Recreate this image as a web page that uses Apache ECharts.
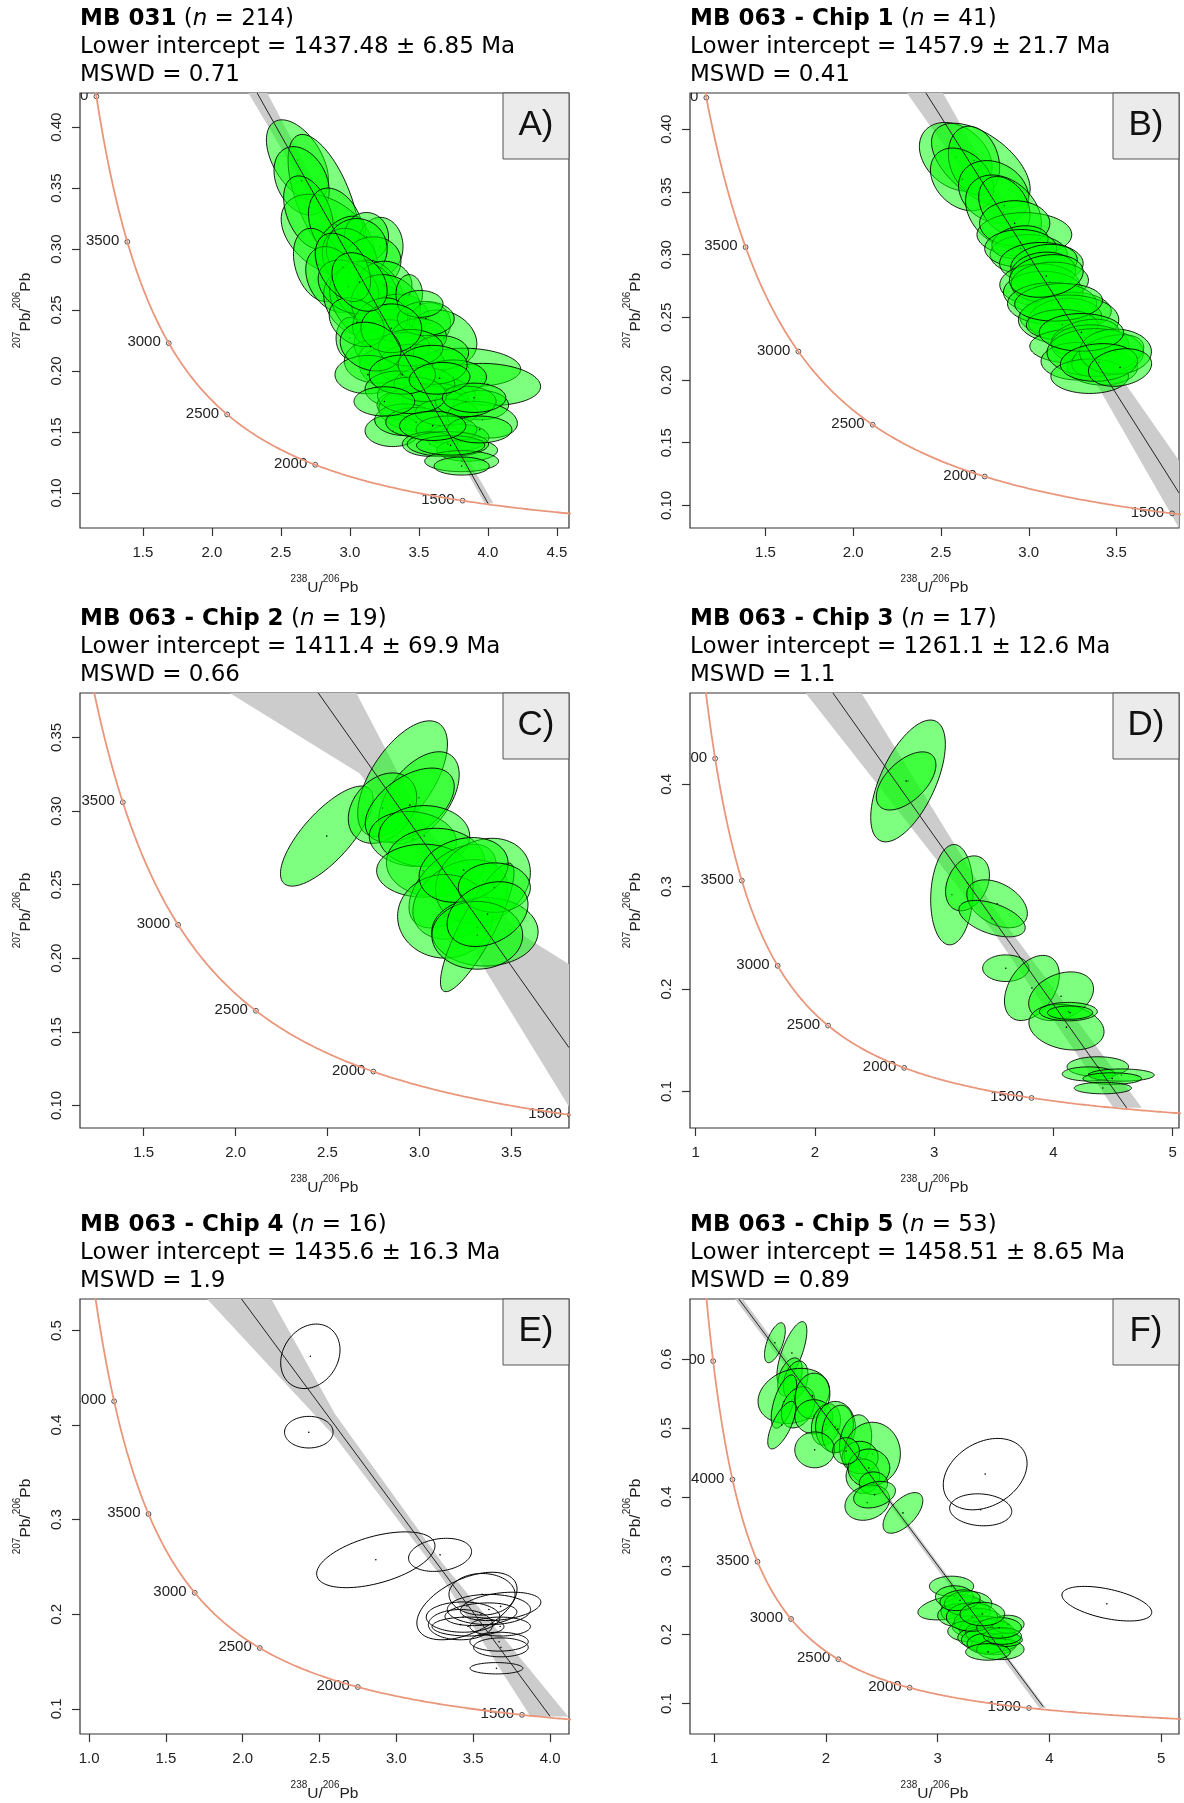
<!DOCTYPE html>
<html>
<head>
<meta charset="utf-8">
<script src="https://cdn.jsdelivr.net/npm/echarts@6/dist/echarts.min.js"></script>
<style>
  html, body { margin: 0; padding: 0; background: #fff; }
  #chart { width: 1184px; height: 1803px; }
</style>
</head>
<body>
<div id="chart"></div>
<script>
// decay constants (1/Ma) used for the Tera-Wasserburg concordia
const LAMBDA_238 = 1.55125e-4
const LAMBDA_235 = 9.8485e-4
const U238_U235 = 137.818

// panel headers
const sampleNames = ['MB 031', 'MB 063 - Chip 1', 'MB 063 - Chip 2', 'MB 063 - Chip 3', 'MB 063 - Chip 4', 'MB 063 - Chip 5']
const sampleN = [214, 41, 19, 17, 16, 53]
const lowerIntercepts = ['1437.48 ± 6.85', '1457.9 ± 21.7', '1411.4 ± 69.9', '1261.1 ± 12.6', '1435.6 ± 16.3', '1458.51 ± 8.65']
const mswdValues = ['0.71', '0.41', '0.66', '1.1', '1.9', '0.89']
const panelLabels = ['A)', 'B)', 'C)', 'D)', 'E)', 'F)']

// axis ranges and tick labels
const xRanges = [[1.044, 4.588], [1.07, 3.856], [1.154, 3.813], [0.952, 5.054], [0.941, 4.123], [0.783, 5.16]]
const yRanges = [[0.0712, 0.428], [0.082, 0.4289], [0.0847, 0.3802], [0.0643, 0.4892], [0.0734, 0.5333], [0.0559, 0.6871]]
const xTicks = [
  [1.5, 2, 2.5, 3, 3.5, 4, 4.5],
  [1.5, 2, 2.5, 3, 3.5],
  [1.5, 2, 2.5, 3, 3.5],
  [1, 2, 3, 4, 5],
  [1, 1.5, 2, 2.5, 3, 3.5, 4],
  [1, 2, 3, 4, 5]
]
const yTicks = [
  [0.1, 0.15, 0.2, 0.25, 0.3, 0.35, 0.4],
  [0.1, 0.15, 0.2, 0.25, 0.3, 0.35, 0.4],
  [0.1, 0.15, 0.2, 0.25, 0.3, 0.35],
  [0.1, 0.2, 0.3, 0.4],
  [0.1, 0.2, 0.3, 0.4, 0.5],
  [0.1, 0.2, 0.3, 0.4, 0.5, 0.6]
]
const xDecimals = [1, 1, 1, 0, 1, 0]
const yDecimals = [2, 2, 2, 1, 1, 1]

// concordia age marks (Ma)
const concordiaTickAges = [1500, 2000, 2500, 3000, 3500, 4000, 4500]

// discordia lines [[x, y], [x, y]] and their error envelopes
const lineA = [[2.328, 0.428], [4.005, 0.0906]]
const lineB = [[2.414, 0.4289], [3.856, 0.110]]
const lineC = [[2.448, 0.3805], [3.813, 0.1393]]
const lineD = [[2.151, 0.4892], [4.615, 0.084]]
const lineE = [[1.992, 0.5333], [4.0, 0.092]]
const lineF = [[1.22, 0.6871], [3.944, 0.0956]]

const bandA = [[2.401, 0.428], [3.2, 0.2568], [4.04, 0.0915], [3.975, 0.0915], [3.2, 0.2488], [2.265, 0.428]]
const bandB = [[2.511, 0.4289], [3.0, 0.3073], [3.856, 0.1358], [3.856, 0.082], [3.0, 0.2913], [2.306, 0.4289]]
const bandC = [[2.655, 0.3805], [3.05, 0.2861], [3.562, 0.2156], [3.813, 0.196], [3.813, 0.0992], [3.356, 0.1923], [3.05, 0.2621], [2.675, 0.3255], [1.964, 0.3805]]
const bandD = [[2.39, 0.4892], [3.5, 0.2793], [4.742, 0.084], [4.504, 0.084], [3.5, 0.2553], [1.922, 0.4892]]
const bandE = [[2.186, 0.5333], [2.6, 0.4117], [3.3, 0.2538], [4.118, 0.092], [3.872, 0.092], [3.3, 0.2378], [2.6, 0.3877], [1.768, 0.5333]]
const bandF = [[1.255, 0.6871], [2.5, 0.414], [3.97, 0.0935], [3.91, 0.0935], [2.5, 0.404], [1.185, 0.6871]]

// error ellipses: [x, y, half-width x, half-height y, correlation]
const ellipsesA = [
  [2.62, 0.373, 0.225, 0.033, -0.5], [2.81, 0.341, 0.258, 0.053, -0.6], [2.65, 0.356, 0.2, 0.028, -0.3],
  [2.84, 0.311, 0.338, 0.034, -0.4], [2.70, 0.33, 0.18, 0.03, -0.4], [2.90, 0.32, 0.2, 0.03, -0.3],
  [2.93, 0.306, 0.184, 0.021, 0.5], [3.22, 0.302, 0.165, 0.024, 0], [3.12, 0.31, 0.16, 0.02, 0],
  [2.77, 0.287, 0.179, 0.030, -0.3], [3.00, 0.292, 0.2, 0.025, -0.2], [3.15, 0.288, 0.22, 0.022, 0.1],
  [3.05, 0.30, 0.22, 0.025, 0], [2.88, 0.275, 0.2, 0.027, -0.3], [3.02, 0.255, 0.21, 0.026, -0.3],
  [3.19, 0.262, 0.21, 0.029, -0.3], [3.20, 0.254, 0.22, 0.019, -0.2], [3.10, 0.254, 0.247, 0.031, -0.4],
  [3.12, 0.265, 0.23, 0.025, -0.2], [3.25, 0.27, 0.2, 0.02, 0], [3.35, 0.245, 0.22, 0.018, 0],
  [2.99, 0.269, 0.22, 0.022, -0.3], [3.26, 0.254, 0.25, 0.025, -0.1], [3.00, 0.227, 0.10, 0.017, 0],
  [3.43, 0.263, 0.096, 0.016, 0], [3.58, 0.239, 0.15, 0.017, 0], [3.68, 0.227, 0.24, 0.023, -0.2],
  [3.28, 0.222, 0.25, 0.02, 0], [3.22, 0.24, 0.2, 0.02, 0.2], [3.50, 0.228, 0.2, 0.015, 0],
  [3.32, 0.215, 0.257, 0.0165, 0.3], [3.32, 0.201, 0.25, 0.018, -0.2], [3.86, 0.203, 0.378, 0.0157, -0.1],
  [3.20, 0.208, 0.24, 0.018, 0], [3.45, 0.205, 0.24, 0.017, 0], [3.66, 0.215, 0.2, 0.014, 0],
  [4.00, 0.189, 0.382, 0.0172, -0.1], [3.13, 0.197, 0.238, 0.0157, 0], [3.69, 0.181, 0.22, 0.0133, -0.1],
  [3.35, 0.185, 0.24, 0.015, 0], [3.75, 0.195, 0.24, 0.014, 0], [3.62, 0.176, 0.24, 0.014, 0],
  [3.41, 0.172, 0.213, 0.0125, 0], [3.54, 0.169, 0.33, 0.019, 0], [3.31, 0.151, 0.20, 0.013, 0],
  [3.40, 0.160, 0.22, 0.013, 0], [3.48, 0.158, 0.22, 0.012, 0], [3.95, 0.172, 0.2, 0.012, 0],
  [3.70, 0.166, 0.227, 0.011, 0], [3.96, 0.160, 0.254, 0.015, -0.2], [3.78, 0.1455, 0.227, 0.011, 0],
  [3.70, 0.152, 0.22, 0.011, 0], [3.58, 0.140, 0.2, 0.01, 0], [3.85, 0.135, 0.22, 0.009, 0],
  [3.71, 0.140, 0.295, 0.0102, 0], [3.81, 0.126, 0.268, 0.0086, 0], [3.81, 0.122, 0.20, 0.0074, 0],
  [3.73, 0.139, 0.247, 0.008, 0], [3.55, 0.243, 0.206, 0.014, 0], [3.51, 0.255, 0.165, 0.011, 0],
  [3.84, 0.175, 0.22, 0.0125, 0], [3.94, 0.152, 0.234, 0.011, 0], [3.44, 0.219, 0.234, 0.015, 0],
  [3.54, 0.189, 0.22, 0.014, 0], [3.05, 0.240, 0.2, 0.02, -0.3], [3.30, 0.235, 0.22, 0.02, 0],
  [3.60, 0.205, 0.25, 0.016, 0], [3.45, 0.180, 0.25, 0.015, 0], [3.60, 0.155, 0.24, 0.012, 0],
  [3.15, 0.220, 0.22, 0.02, -0.2], [2.95, 0.285, 0.2, 0.028, -0.4], [3.07, 0.273, 0.2, 0.024, -0.3],
  [3.38, 0.197, 0.24, 0.016, 0], [3.90, 0.178, 0.23, 0.012, 0], [3.65, 0.194, 0.22, 0.013, 0.1],
  [3.25, 0.175, 0.22, 0.012, 0]
]
const ellipsesB = [
  [2.584, 0.378, 0.207, 0.0274, -0.3], [2.727, 0.371, 0.281, 0.0338, -0.55], [2.688, 0.375, 0.146, 0.0274, -0.2],
  [2.62, 0.36, 0.18, 0.025, -0.3], [2.80, 0.35, 0.2, 0.025, -0.2],
  [2.856, 0.334, 0.216, 0.0295, -0.3], [2.861, 0.339, 0.146, 0.0233, -0.3], [2.975, 0.316, 0.27, 0.0175, 0],
  [2.92, 0.325, 0.2, 0.018, 0], [3.0, 0.30, 0.22, 0.016, 0], [2.95, 0.31, 0.16, 0.013, 0.2],
  [2.954, 0.305, 0.205, 0.015, 0], [3.072, 0.293, 0.238, 0.0167, 0], [3.087, 0.293, 0.189, 0.0152, 0.2],
  [3.083, 0.286, 0.184, 0.016, 0.1], [3.062, 0.276, 0.227, 0.0167, 0], [3.083, 0.270, 0.227, 0.0167, 0],
  [3.12, 0.278, 0.22, 0.016, 0.1], [3.15, 0.25, 0.2, 0.014, 0], [3.25, 0.255, 0.22, 0.015, 0],
  [3.133, 0.261, 0.254, 0.0167, 0], [3.206, 0.2485, 0.21, 0.0167, 0.1], [3.227, 0.248, 0.286, 0.0198, 0],
  [3.191, 0.244, 0.205, 0.0122, 0], [3.26, 0.227, 0.254, 0.0137, 0], [3.321, 0.234, 0.194, 0.0145, 0.3],
  [3.35, 0.228, 0.22, 0.016, 0], [3.28, 0.215, 0.21, 0.015, 0], [3.42, 0.21, 0.2, 0.014, 0],
  [3.379, 0.222, 0.275, 0.019, 0], [3.45, 0.2195, 0.205, 0.0167, 0.4], [3.347, 0.203, 0.221, 0.0137, 0],
  [3.494, 0.2226, 0.205, 0.018, 0], [3.17, 0.262, 0.25, 0.015, 0.1], [3.10, 0.283, 0.21, 0.017, 0.2],
  [3.30, 0.238, 0.24, 0.015, 0], [3.40, 0.214, 0.22, 0.015, 0.1], [3.52, 0.21, 0.18, 0.015, 0.2]
]
const ellipsesC = [
  [2.496, 0.283, 0.252, 0.034, 0.75], [2.908, 0.322, 0.244, 0.0393, 0.6], [2.997, 0.309, 0.219, 0.0313, 0.5],
  [2.799, 0.302, 0.186, 0.0239, 0.3], [2.947, 0.304, 0.242, 0.0252, 0.5], [2.964, 0.281, 0.237, 0.0187, -0.1],
  [3.026, 0.283, 0.247, 0.0207, 0], [3.088, 0.265, 0.268, 0.0233, 0], [3.02, 0.2595, 0.253, 0.018, 0],
  [3.18, 0.249, 0.237, 0.0284, 0.5], [3.222, 0.240, 0.258, 0.027, 0.3], [3.345, 0.2525, 0.258, 0.029, 0.2],
  [3.139, 0.2285, 0.258, 0.0284, 0], [3.356, 0.218, 0.289, 0.0233, 0], [3.314, 0.221, 0.2, 0.0437, 0.85],
  [3.24, 0.260, 0.242, 0.022, 0.2], [3.407, 0.248, 0.196, 0.0168, 0], [3.314, 0.2156, 0.247, 0.023, 0],
  [3.37, 0.23, 0.22, 0.022, 0.3]
]
const ellipsesD = [
  [2.781, 0.4033, 0.313, 0.0595, 0.6], [2.765, 0.4033, 0.25, 0.0284, 0.55], [3.149, 0.2922, 0.178, 0.049, 0.1],
  [3.28, 0.3033, 0.184, 0.0268, 0.3], [3.528, 0.2833, 0.254, 0.0234, -0.4], [3.486, 0.2688, 0.278, 0.0178, -0.5],
  [3.601, 0.2204, 0.194, 0.013, 0], [3.82, 0.2011, 0.23, 0.0318, 0.4], [4.065, 0.193, 0.272, 0.0238, 0.3],
  [4.11, 0.1628, 0.315, 0.0223, -0.2], [4.126, 0.178, 0.243, 0.009, 0], [4.14, 0.177, 0.19, 0.0065, 0],
  [4.373, 0.1242, 0.258, 0.0097, 0], [4.297, 0.1171, 0.222, 0.0069, 0], [4.571, 0.116, 0.275, 0.006, 0],
  [4.494, 0.1126, 0.246, 0.0056, 0], [4.415, 0.1033, 0.24, 0.0056, 0]
]
const ellipsesE = [
  [2.44, 0.4727, 0.193, 0.0341, 0.2], [2.43, 0.3925, 0.158, 0.0167, 0], [2.866, 0.2576, 0.385, 0.0295, 0.5],
  [3.284, 0.2628, 0.205, 0.0175, 0.2], [3.459, 0.2087, 0.326, 0.0357, 0.5], [3.557, 0.2211, 0.215, 0.022, 0],
  [3.678, 0.2083, 0.262, 0.015, 0.3], [3.434, 0.197, 0.24, 0.016, 0], [3.417, 0.189, 0.209, 0.016, 0],
  [3.466, 0.187, 0.234, 0.01, 0], [3.602, 0.205, 0.271, 0.016, 0], [3.675, 0.187, 0.197, 0.01, 0],
  [3.668, 0.171, 0.19, 0.01, 0], [3.68, 0.165, 0.178, 0.01, 0], [3.651, 0.1429, 0.172, 0.006, 0],
  [3.55, 0.200, 0.234, 0.012, 0.2]
]
const ellipsesF = [
  [1.543, 0.6237, 0.093, 0.029, 0.6], [1.695, 0.6088, 0.134, 0.0455, 0.7], [1.678, 0.574, 0.11, 0.0276, 0.4],
  [1.729, 0.5691, 0.11, 0.028, 0.3], [1.712, 0.5465, 0.32, 0.04, 0.2], [1.624, 0.5383, 0.114, 0.0386, 0.6],
  [1.75, 0.53, 0.15, 0.03, 0.3], [1.604, 0.5041, 0.125, 0.0345, 0.7], [1.879, 0.5465, 0.156, 0.033, 0.1],
  [1.892, 0.5162, 0.17, 0.0248, 0], [2.0, 0.505, 0.13, 0.03, 0.2],
  [2.085, 0.5013, 0.178, 0.0372, 0], [2.105, 0.4985, 0.14, 0.0345, 0.2], [1.899, 0.4682, 0.178, 0.026, 0],
  [2.265, 0.4804, 0.144, 0.0386, 0.2], [2.415, 0.4627, 0.251, 0.0455, 0], [2.306, 0.4572, 0.161, 0.0234, 0],
  [2.33, 0.43, 0.15, 0.025, 0], [2.384, 0.4418, 0.187, 0.0276, 0], [2.425, 0.4197, 0.127, 0.0165, 0],
  [2.37, 0.3916, 0.2, 0.0256, 0.2], [2.435, 0.4032, 0.187, 0.0193, 0.3], [2.689, 0.3767, 0.178, 0.0295, 0.6],
  [2.18, 0.4666, 0.119, 0.0193, 0],
  [3.124, 0.2703, 0.198, 0.0146, 0], [3.103, 0.2395, 0.28, 0.018, 0.4], [3.249, 0.234, 0.22, 0.0207, 0],
  [3.15, 0.255, 0.17, 0.016, 0], [3.20, 0.228, 0.2, 0.017, 0], [3.33, 0.212, 0.2, 0.016, 0],
  [3.273, 0.245, 0.212, 0.018, 0], [3.368, 0.2185, 0.22, 0.0193, 0], [3.425, 0.2075, 0.229, 0.0193, 0],
  [3.28, 0.205, 0.19, 0.015, 0], [3.38, 0.196, 0.2, 0.015, 0], [3.50, 0.185, 0.2, 0.014, 0],
  [3.469, 0.2036, 0.22, 0.018, 0], [3.476, 0.1926, 0.263, 0.018, 0], [3.442, 0.1871, 0.178, 0.015, 0],
  [3.561, 0.1788, 0.212, 0.015, 0], [3.605, 0.1926, 0.153, 0.0097, 0], [3.629, 0.2152, 0.144, 0.013, 0],
  [3.58, 0.198, 0.17, 0.012, 0], [3.45, 0.175, 0.2, 0.012, 0],
  [3.307, 0.2257, 0.229, 0.0207, 0], [3.20, 0.25, 0.18, 0.015, 0.2], [3.55, 0.21, 0.2, 0.015, 0],
  [3.40, 0.23, 0.2, 0.017, 0]
]
const outliersF = [
  [3.425, 0.433, 0.375, 0.0518, 0.3], [3.385, 0.3812, 0.278, 0.0232, -0.1], [4.514, 0.245, 0.402, 0.0251, -0.5]
]

const panelLines = [lineA, lineB, lineC, lineD, lineE, lineF]
const panelBands = [bandA, bandB, bandC, bandD, bandE, bandF]
const panelEllipses = [ellipsesA, ellipsesB, ellipsesC, ellipsesD, [], ellipsesF]
const panelOpenEllipses = [[], [], [], [], ellipsesE, outliersF]

// layout (pixels)
const gridLefts = [80, 690, 80, 690, 80, 690]
const gridTops = [93, 93, 693, 693, 1299, 1299]
const GRID_W = 489
const GRID_H = 435

const AXIS_FONT = "'Liberation Sans', Arial, Helvetica, sans-serif"
const TITLE_FONT = "'DejaVu Sans', Verdana, sans-serif"

function concordiaPoint(t) {
  const e8 = Math.exp(LAMBDA_238 * t) - 1
  const e5 = Math.exp(LAMBDA_235 * t) - 1
  return [1 / e8, e5 / (e8 * U238_U235)]
}

const concordiaCurve = []
for (let t = 900; t <= 5500; t += 5) concordiaCurve.push(concordiaPoint(t))
const concordiaMarks = concordiaTickAges.map(t => concordiaPoint(t).concat([t]))

function ellipseRenderer(filled) {
  return function (params, api) {
    const cx = api.value(0), cy = api.value(1)
    const sx = api.value(2), sy = api.value(3), rho = api.value(4)
    const k = Math.sqrt(1 - rho * rho)
    const pts = []
    for (let j = 0; j < 90; j++) {
      const a = j / 90 * Math.PI * 2
      pts.push(api.coord([cx + sx * Math.cos(a), cy + sy * (rho * Math.cos(a) + k * Math.sin(a))]))
    }
    const c = api.coord([cx, cy])
    return {
      type: 'group',
      children: [
        { type: 'polygon', shape: { points: pts },
          style: { fill: filled ? 'rgba(0,255,0,0.5)' : 'none', stroke: '#000', lineWidth: filled ? 0.9 : 1 } },
        { type: 'circle', shape: { cx: c[0], cy: c[1], r: 0.8 }, style: { fill: '#000' } }
      ]
    }
  }
}

function bandRenderer(band) {
  return function (params, api) {
    return {
      type: 'polygon',
      shape: { points: band.map(p => api.coord(p)) },
      style: { fill: '#CCCCCC' }
    }
  }
}

function markRenderer(params, api) {
  const c = api.coord([api.value(0), api.value(1)])
  return {
    type: 'group',
    children: [
      { type: 'circle', shape: { cx: c[0], cy: c[1], r: 2.4 }, style: { fill: 'none', stroke: '#222', lineWidth: 0.8 } },
      { type: 'text', x: c[0] - 8, y: c[1] - 1,
        style: { text: String(api.value(2)), fill: '#222', fontSize: 15, fontFamily: AXIS_FONT,
                 align: 'right', verticalAlign: 'middle', textAlign: 'right', textVerticalAlign: 'middle' } }
    ]
  }
}

const axisNameRich = {
  sup: { fontSize: 10, fontFamily: AXIS_FONT, color: '#222', verticalAlign: 'top' },
  main: { fontSize: 15.5, fontFamily: AXIS_FONT, color: '#222', lineHeight: 22, verticalAlign: 'bottom' }
}

const grids = [], xAxes = [], yAxes = [], series = [], titles = [], graphics = []

for (let i = 0; i < 6; i++) {
  const L = gridLefts[i], T = gridTops[i]
  grids.push({ left: L, top: T, width: GRID_W, height: GRID_H, show: true,
               borderColor: '#333', borderWidth: 1.2, backgroundColor: 'transparent' })

  xAxes.push({
    type: 'value', gridIndex: i, min: xRanges[i][0], max: xRanges[i][1],
    name: '{sup|238}{main|U/}{sup|206}{main|Pb}', nameLocation: 'middle', nameGap: 46,
    nameTextStyle: { rich: axisNameRich },
    axisLine: { show: false },
    axisTick: { show: true, length: 8, customValues: xTicks[i], lineStyle: { color: '#333', width: 1.2 } },
    axisLabel: { customValues: xTicks[i], formatter: v => v.toFixed(xDecimals[i]), margin: 17,
                 fontSize: 15, fontFamily: AXIS_FONT, color: '#222' },
    splitLine: { show: false }
  })
  yAxes.push({
    type: 'value', gridIndex: i, min: yRanges[i][0], max: yRanges[i][1],
    name: '{sup|207}{main|Pb/}{sup|206}{main|Pb}', nameLocation: 'middle', nameGap: 46,
    nameTextStyle: { rich: axisNameRich },
    axisLine: { show: false },
    axisTick: { show: true, length: 8, customValues: yTicks[i], lineStyle: { color: '#333', width: 1.2 } },
    axisLabel: { customValues: yTicks[i], formatter: v => v.toFixed(yDecimals[i]), rotate: 90, margin: 16,
                 fontSize: 15, fontFamily: AXIS_FONT, color: '#222' },
    splitLine: { show: false }
  })

  series.push({
    type: 'custom', xAxisIndex: i, yAxisIndex: i, data: [[0, 0]], clip: true, silent: true,
    renderItem: bandRenderer(panelBands[i])
  })
  series.push({
    type: 'line', xAxisIndex: i, yAxisIndex: i, data: panelLines[i], symbol: 'none', silent: true,
    lineStyle: { color: '#222', width: 1 }
  })
  series.push({
    type: 'line', xAxisIndex: i, yAxisIndex: i, data: concordiaCurve, symbol: 'none', silent: true,
    lineStyle: { color: '#E9967A', width: 1.8 }, clip: true
  })
  series.push({
    type: 'custom', xAxisIndex: i, yAxisIndex: i, data: concordiaMarks, clip: true, silent: true,
    renderItem: markRenderer
  })
  if (panelEllipses[i].length) {
    series.push({
      type: 'custom', xAxisIndex: i, yAxisIndex: i, data: panelEllipses[i], clip: true, silent: true,
      encode: { x: 0, y: 1 }, renderItem: ellipseRenderer(true)
    })
  }
  if (panelOpenEllipses[i].length) {
    series.push({
      type: 'custom', xAxisIndex: i, yAxisIndex: i, data: panelOpenEllipses[i], clip: true, silent: true,
      encode: { x: 0, y: 1 }, renderItem: ellipseRenderer(false)
    })
  }

  titles.push({
    left: L, top: T - 88, padding: 0,
    text: '{b|' + sampleNames[i] + '} ({i|n} = ' + sampleN[i] + ')\nLower intercept = ' +
          lowerIntercepts[i] + ' Ma\nMSWD = ' + mswdValues[i],
    textStyle: {
      fontFamily: TITLE_FONT, fontSize: 23, fontWeight: 'normal', lineHeight: 28, color: '#000',
      rich: {
        b: { fontFamily: TITLE_FONT, fontSize: 23, fontWeight: 'bold', lineHeight: 28, color: '#000' },
        i: { fontFamily: TITLE_FONT, fontSize: 23, fontStyle: 'italic', lineHeight: 28, color: '#000' }
      }
    }
  })

  graphics.push({
    type: 'rect', z: 100, shape: { x: L + GRID_W - 66, y: T, width: 66, height: 66 },
    style: { fill: '#EBEBEB', stroke: '#555', lineWidth: 1 }
  })
  graphics.push({
    type: 'text', z: 101, x: L + GRID_W - 33, y: T + 32,
    style: { text: panelLabels[i], fontSize: 35, fontFamily: AXIS_FONT, fill: '#111',
             align: 'center', verticalAlign: 'middle', textAlign: 'center', textVerticalAlign: 'middle' }
  })
}

const chart = echarts.init(document.getElementById('chart'))
chart.setOption({
  animation: false,
  backgroundColor: '#fff',
  title: titles,
  grid: grids,
  xAxis: xAxes,
  yAxis: yAxes,
  series: series,
  graphic: graphics
})
</script>
</body>
</html>
